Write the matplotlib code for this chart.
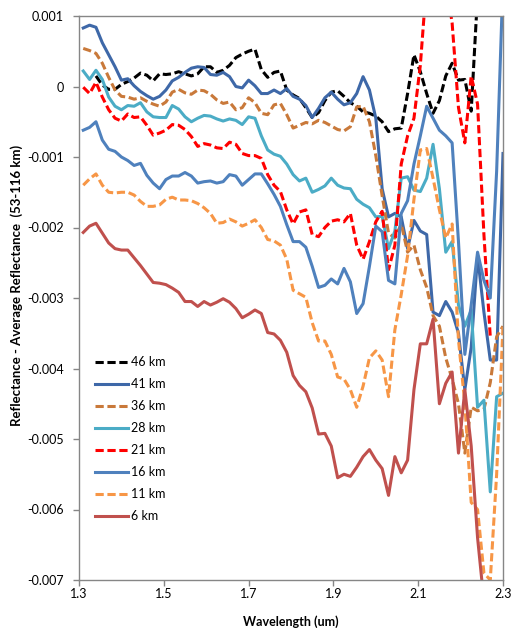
import numpy as np
import matplotlib
matplotlib.use("Agg")
import matplotlib.pyplot as plt

plt.rcParams['font.family'] = ['Lato', 'DejaVu Sans']
plt.rcParams['axes.unicode_minus'] = False

nan = np.nan

# wavelength sampling (um)
wavelength = [1.310, 1.325, 1.340, 1.355, 1.370, 1.385, 1.400, 1.415, 1.430, 1.445,
              1.460, 1.475, 1.490, 1.505, 1.520, 1.535, 1.550, 1.565, 1.580, 1.595,
              1.610, 1.625, 1.640, 1.655, 1.670, 1.685, 1.700, 1.715, 1.730, 1.745,
              1.760, 1.775, 1.790, 1.805, 1.820, 1.835, 1.850, 1.865, 1.880, 1.895,
              1.910, 1.925, 1.940, 1.955, 1.970, 1.985, 2.000, 2.015, 2.030, 2.045,
              2.060, 2.075, 2.090, 2.105, 2.120, 2.135, 2.150, 2.165, 2.180, 2.195,
              2.210, 2.225, 2.240, 2.255, 2.270, 2.285, 2.300]

# reflectance minus average reflectance, in units of 1e-3
km46 = [nan, nan, 0.15, 0.02, -0.04, -0.04, 0.03, 0.07, 0.12, 0.19,
        0.16, 0.08, 0.18, 0.17, 0.18, 0.21, 0.18, 0.15, 0.18, 0.28,
        0.28, 0.20, 0.23, 0.30, 0.41, 0.46, 0.50, 0.53, 0.24, 0.13,
        0.20, 0.22, -0.05, -0.12, -0.17, -0.30, -0.44, -0.37, -0.20, -0.08,
        -0.06, -0.14, -0.23, -0.28, -0.36, -0.38, -0.42, -0.50, -0.64, -0.60,
        -0.59, -0.10, 0.45, 0.21, -0.10, -0.38, -0.20, 0.15, 0.33, 0.09,
        0.10, -0.35, 1.30, nan, nan, nan, nan]
km41 = [0.83, 0.87, 0.84, 0.62, 0.45, 0.28, 0.09, 0.11, 0.01, -0.07,
        -0.13, -0.18, -0.14, -0.05, 0.08, 0.13, 0.20, 0.26, 0.28, 0.27,
        0.17, 0.16, 0.20, 0.14, 0.00, -0.02, 0.09, 0.01, -0.10, -0.10,
        -0.05, -0.10, -0.03, -0.14, -0.18, -0.27, -0.44, -0.31, -0.16, -0.08,
        -0.18, -0.26, -0.23, -0.10, 0.14, -0.05, -0.45, -1.45, -1.85, -1.80,
        -1.85, -2.30, -1.90, -2.05, -2.10, -3.20, -3.25, -3.05, -3.20, -3.50,
        -4.30, -3.70, -2.40, -3.20, -3.88, -3.88, -0.95]
km36 = [0.54, 0.51, 0.47, 0.33, 0.13, -0.05, -0.14, -0.15, -0.18, -0.16,
        -0.21, -0.25, -0.28, -0.22, -0.08, -0.04, -0.09, -0.11, -0.05, -0.06,
        -0.11, -0.19, -0.24, -0.22, -0.33, -0.30, -0.16, -0.23, -0.38, -0.40,
        -0.26, -0.24, -0.40, -0.59, -0.55, -0.51, -0.53, -0.48, -0.51, -0.56,
        -0.61, -0.63, -0.57, -0.29, -0.28, -0.50, -0.98, -1.55, -2.08, -2.15,
        -1.95, -2.35, -2.25, -2.60, -2.85, -3.25, -3.40, -3.85, -4.15, -4.50,
        -5.20, -4.55, -4.60, -4.58, -4.20, -3.55, -3.40]
km28 = [0.22, 0.10, 0.23, 0.10, -0.15, -0.28, -0.33, -0.27, -0.28, -0.23,
        -0.36, -0.43, -0.44, -0.44, -0.27, -0.32, -0.43, -0.50, -0.45, -0.41,
        -0.42, -0.46, -0.49, -0.46, -0.48, -0.54, -0.43, -0.45, -0.70, -0.90,
        -0.96, -0.99, -1.10, -1.25, -1.34, -1.30, -1.50, -1.46, -1.41, -1.30,
        -1.40, -1.44, -1.45, -1.60, -1.67, -1.72, -1.85, -1.84, -2.30, -2.05,
        -1.30, -1.28, -1.47, -1.49, -1.30, -0.82, -1.45, -2.35, -2.20, -3.10,
        -3.40, -3.17, -4.55, -4.45, -5.75, -4.40, -4.35]
km21 = [-0.01, -0.10, 0.06, -0.15, -0.33, -0.45, -0.49, -0.39, -0.44, -0.43,
        -0.55, -0.69, -0.66, -0.62, -0.54, -0.55, -0.61, -0.71, -0.85, -0.81,
        -0.83, -0.87, -0.88, -0.79, -0.82, -0.95, -0.98, -0.98, -1.02, -1.25,
        -1.40, -1.49, -1.75, -1.95, -1.78, -1.75, -2.10, -2.13, -2.00, -1.91,
        -1.89, -1.92, -1.80, -2.25, -2.45, -2.20, -1.92, -1.77, -2.60, -2.25,
        -1.10, -0.70, -0.45, 0.30, 1.50, 2.00, 2.00, 1.50, 0.90, -0.30,
        -0.80, 0.15, -0.25, -2.10, -3.55, nan, nan]
km16 = [-0.62, -0.58, -0.50, -0.76, -0.89, -0.92, -1.00, -1.05, -1.12, -1.09,
        -1.26, -1.37, -1.45, -1.32, -1.27, -1.27, -1.22, -1.27, -1.37, -1.35,
        -1.34, -1.37, -1.35, -1.25, -1.27, -1.40, -1.32, -1.24, -1.24, -1.38,
        -1.53, -1.70, -1.96, -2.20, -2.20, -2.28, -2.55, -2.85, -2.82, -2.73,
        -2.80, -2.58, -2.77, -3.22, -3.08, -2.55, -1.98, -2.06, -2.75, -2.80,
        -1.80, -1.62, -1.10, -0.70, -0.28, -0.45, -0.62, -0.70, -0.80, -2.20,
        -3.80, -3.10, -2.35, -2.75, -3.00, -1.20, 1.50]
km11 = [-1.40, -1.31, -1.24, -1.40, -1.50, -1.51, -1.50, -1.50, -1.54, -1.63,
        -1.70, -1.70, -1.68, -1.60, -1.57, -1.61, -1.61, -1.62, -1.66, -1.72,
        -1.80, -1.94, -1.93, -1.88, -1.92, -1.98, -1.94, -1.89, -2.00, -2.17,
        -2.19, -2.25, -2.45, -2.89, -2.94, -2.99, -3.35, -3.61, -3.61, -3.80,
        -4.12, -4.15, -4.30, -4.55, -4.25, -3.85, -3.75, -3.88, -4.40, -3.45,
        -2.95, -2.40, -1.60, -0.90, -0.88, -1.30, -1.75, -2.15, -1.95, -3.60,
        -4.50, -5.90, -6.00, -6.90, -7.00, -5.50, -3.40]
km6 = [-2.07, -1.98, -1.94, -2.08, -2.22, -2.30, -2.32, -2.32, -2.43, -2.54,
       -2.66, -2.78, -2.79, -2.81, -2.86, -2.92, -3.05, -3.05, -3.12, -3.05,
       -3.10, -3.06, -3.01, -3.06, -3.15, -3.28, -3.23, -3.17, -3.22, -3.49,
       -3.51, -3.60, -3.77, -4.10, -4.24, -4.33, -4.56, -4.93, -4.92, -5.10,
       -5.55, -5.50, -5.53, -5.40, -5.25, -5.15, -5.30, -5.42, -5.80, -5.25,
       -5.48, -5.30, -4.30, -3.65, -3.65, -3.30, -4.50, -4.21, -4.05, -5.20,
       -4.30, -5.10, -6.40, -7.30, nan, nan, nan]

labels = ['46 km', '41 km', '36 km', '28 km', '21 km', '16 km', '11 km', '6 km']
series = [km46, km41, km36, km28, km21, km16, km11, km6]
colors = ['#000000', '#3E68A8', '#C9793A', '#4BACC6', '#FF0000', '#4F81BD', '#F79646', '#C0504D']
dashed = [True, False, True, False, True, False, True, False]

fig = plt.figure(figsize=(5.11, 6.28), dpi=100)
ax = fig.add_axes([79 / 511, 1 - 580 / 628, 424 / 511, 564 / 628])

x = np.array(wavelength)
for lab, vals, col, dsh in zip(labels, series, colors, dashed):
    y = np.array(vals) * 1e-3
    if dsh:
        ax.plot(x, y, color=col, lw=2.2, dashes=(2.7, 1.2), label=lab)
    else:
        ax.plot(x, y, color=col, lw=2.2, label=lab)

ax.set_xlim(1.3, 2.3)
ax.set_ylim(-0.007, 0.001)

xt = [1.3, 1.5, 1.7, 1.9, 2.1, 2.3]
ax.set_xticks(xt)
ax.set_xticklabels([f'{v:.1f}' for v in xt])
yt = [-0.007, -0.006, -0.005, -0.004, -0.003, -0.002, -0.001, 0.0, 0.001]
ax.set_yticks(yt)
ax.set_yticklabels(['-0.007', '-0.006', '-0.005', '-0.004', '-0.003', '-0.002', '-0.001', '0', '0.001'])

ax.tick_params(axis='both', labelsize=9, color='#868686', length=4, width=1)
ax.tick_params(axis='y', pad=7)
ax.tick_params(axis='x', pad=2)
for sp in ax.spines.values():
    sp.set_color('#868686')
    sp.set_linewidth(1)

fig.text(0.033, 1 - 285 / 628, 'Reflectance - Average Reflectance  (53-116 km)',
         rotation=90, ha='center', va='center', fontsize=9.5, fontweight='bold')
fig.text(291 / 511, 1 - 622 / 628, 'Wavelength (um)', ha='center', va='center',
         fontsize=9, fontweight='bold')

ax.legend(loc='upper left', bbox_to_anchor=(95 / 511, 1 - 356 / 628),
          bbox_transform=fig.transFigure, frameon=False, fontsize=9,
          handlelength=2.6, handletextpad=0.25, labelspacing=0.8,
          borderpad=0, borderaxespad=0)

fig.savefig('out.png', dpi=100)
